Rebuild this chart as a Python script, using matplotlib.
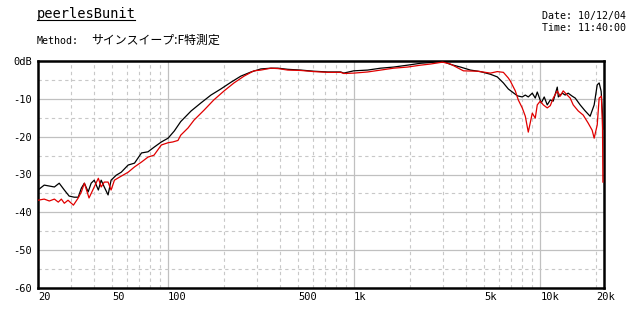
import matplotlib
matplotlib.use('Agg')
import matplotlib.pyplot as plt
from matplotlib.lines import Line2D
from matplotlib.ticker import FixedLocator, NullFormatter

# measured response, black trace
black_freq = [20, 21.6, 24.5, 26, 27.7, 29.4, 31.3, 32.9, 34.2, 35.5, 37.2, 38.6, 40.1,
              42.2, 43.7, 45.4, 47.6, 49.4, 52.6, 56, 61, 66, 72, 78, 84, 92, 100, 108,
              117, 133, 150, 170, 192, 218, 246, 279, 315, 357, 389, 440, 516, 606, 721,
              847, 879, 994, 1181, 1387, 1629, 1936, 2273, 2572, 2983, 3290, 3724, 4214,
              4766, 5393, 5875, 6336, 6735, 7530, 8000, 8310, 8620, 9057, 9398, 9635,
              10120, 10500, 10900, 11320, 11740, 12340, 12500, 13120, 13610, 14120,
              14850, 15410, 16380, 17430, 18530, 19480, 20230, 20720, 21240, 21600, 21700]
black_db = [-34.1, -32.8, -33.3, -32.3, -34.1, -35.7, -36.0, -36.0, -33.6, -32.3, -34.6,
            -32.3, -31.5, -34.1, -31.5, -33.3, -35.4, -31.5, -30.2, -29.4, -27.5, -27.0,
            -24.3, -24.0, -22.8, -21.4, -20.4, -18.5, -16.0, -13.2, -11.1, -9.0, -7.4,
            -5.6, -4.0, -2.9, -2.1, -1.9, -1.9, -2.2, -2.4, -2.7, -2.9, -2.9, -3.2, -2.6,
            -2.4, -1.9, -1.6, -1.1, -0.6, -0.4, 0.0, -0.9, -1.6, -2.4, -2.8, -3.5, -4.2,
            -5.8, -7.4, -9.2, -9.5, -9.0, -9.5, -8.5, -9.8, -8.2, -11.1, -9.5, -11.6,
            -10.3, -10.6, -6.9, -9.5, -8.5, -9.0, -8.5, -9.3, -9.8, -11.6, -13.2, -14.6,
            -11.6, -6.3, -5.8, -8.0, -14.0, -18.0]

# measured response, red trace
red_freq = [20, 21.6, 23, 24.5, 25.7, 26.7, 27.7, 29, 31, 32.9, 34.2, 35.5, 37.6, 40.1,
            42.2, 43.7, 45.4, 47.6, 49.4, 51.5, 54.8, 61, 66, 72, 78, 84, 92, 100, 106,
            113, 117, 128, 138, 156, 176, 200, 226, 256, 289, 315, 357, 389, 440, 516,
            606, 721, 847, 879, 994, 1181, 1387, 1629, 1936, 2273, 2572, 2983, 3290,
            3863, 4592, 5393, 5875, 6336, 6735, 6905, 7342, 7620, 8000, 8310, 8620,
            9057, 9398, 9635, 10000, 10380, 10900, 11320, 11740, 12340, 12800, 13280,
            13950, 14480, 15030, 15990, 17010, 18080, 19000, 19480, 20230, 20720,
            21300, 21600, 21700]
red_db = [-36.8, -36.5, -37.0, -36.5, -37.3, -36.5, -37.6, -36.8, -38.1, -36.2, -34.6,
          -32.3, -36.2, -33.3, -31.0, -33.3, -32.0, -32.0, -34.1, -31.5, -30.7, -29.4,
          -28.0, -26.7, -25.4, -24.9, -22.2, -21.6, -21.4, -21.0, -19.6, -17.7, -15.6,
          -13.0, -10.3, -7.9, -5.8, -4.0, -2.6, -2.4, -1.9, -2.0, -2.4, -2.5, -2.8,
          -3.0, -3.0, -3.3, -3.2, -2.9, -2.4, -1.9, -1.6, -1.1, -0.8, -0.3, -0.8, -2.6,
          -2.7, -3.2, -2.8, -3.0, -4.5, -5.3, -7.9, -10.3, -12.4, -14.6, -18.8, -13.8,
          -15.1, -11.6, -10.6, -11.6, -12.4, -11.8, -9.8, -7.9, -9.3, -7.9, -9.0, -9.8,
          -11.6, -13.2, -14.3, -16.4, -18.3, -20.4, -16.9, -9.8, -9.3, -17.7, -32.0]

x_ticks = [20, 50, 100, 500, 1000, 5000, 10000, 20000]
x_labels = ['20', '50', '100', '500', '1k', '5k', '10k', '20k']
y_ticks = [0, -10, -20, -30, -40, -50, -60]
y_labels = ['0dB', '-10', '-20', '-30', '-40', '-50', '-60']

W, H = 640, 319
fig = plt.figure(figsize=(W / 100, H / 100), dpi=100)
ax = fig.add_axes([38 / W, 1 - 288 / H, 566 / W, 227 / H])

ax.set_xscale('log')
ax.set_xlim(20, 22000)
ax.set_ylim(-60, 0)

major_x = [100, 1000, 10000]
minor_x = [m * d for d in (10, 100, 1000, 10000) for m in range(2, 10) if 20 < m * d <= 20000]
for x in minor_x:
    ax.axvline(x, color='#c8c8c8', lw=0.8, ls=(0, (3, 3)), zorder=1)
for x in major_x:
    ax.axvline(x, color='#c0c0c0', lw=0.9, zorder=1)
for y in range(-55, 0, 10):
    ax.axhline(y, color='#c8c8c8', lw=0.8, ls=(0, (3, 3)), zorder=1)
for y in range(-50, 0, 10):
    ax.axhline(y, color='#c0c0c0', lw=0.9, zorder=1)

ax.plot(black_freq, black_db, color='black', lw=0.9, zorder=3)
ax.plot(red_freq, red_db, color='#e00000', lw=0.9, zorder=3)

ax.xaxis.set_major_locator(FixedLocator(x_ticks))
ax.xaxis.set_minor_locator(FixedLocator([]))
ax.xaxis.set_minor_formatter(NullFormatter())
ax.set_xticks(x_ticks)
ax.set_xticklabels(x_labels)
ax.set_yticks(y_ticks)
ax.set_yticklabels(y_labels)
ax.tick_params(length=0, labelsize=7.5, colors='black')
ax.tick_params(axis='x', pad=3)
ax.tick_params(axis='y', pad=4)
for lab in ax.get_xticklabels() + ax.get_yticklabels():
    lab.set_fontfamily('DejaVu Sans Mono')
for lab in ax.get_xticklabels():
    lab.set_ha('left')
for sp in ax.spines.values():
    sp.set_linewidth(1.8)
    sp.set_color('black')

# header texts
fig.text(37 / W, 1 - 18 / H, 'peerlesBunit', fontsize=9.8, family='DejaVu Sans Mono',
         va='baseline')
fig.add_artist(Line2D([37 / W, 135 / W], [1 - 20 / H, 1 - 20 / H], color='black', lw=0.8))
fig.text(37 / W, 1 - 44 / H, 'Method:', fontsize=7.2, family='DejaVu Sans Mono', va='baseline')
fig.text(91 / W, 1 - 44 / H, 'サインスイープ:F特測定', fontsize=8.6,
         family=['Noto Sans CJK JP', 'DejaVu Sans'], va='baseline')
fig.text(542 / W, 1 - 19 / H, 'Date: 10/12/04', fontsize=7.2, family='DejaVu Sans Mono',
         va='baseline')
fig.text(542 / W, 1 - 31 / H, 'Time: 11:40:00', fontsize=7.2, family='DejaVu Sans Mono',
         va='baseline')

fig.savefig('out.png', dpi=100, facecolor='white')
